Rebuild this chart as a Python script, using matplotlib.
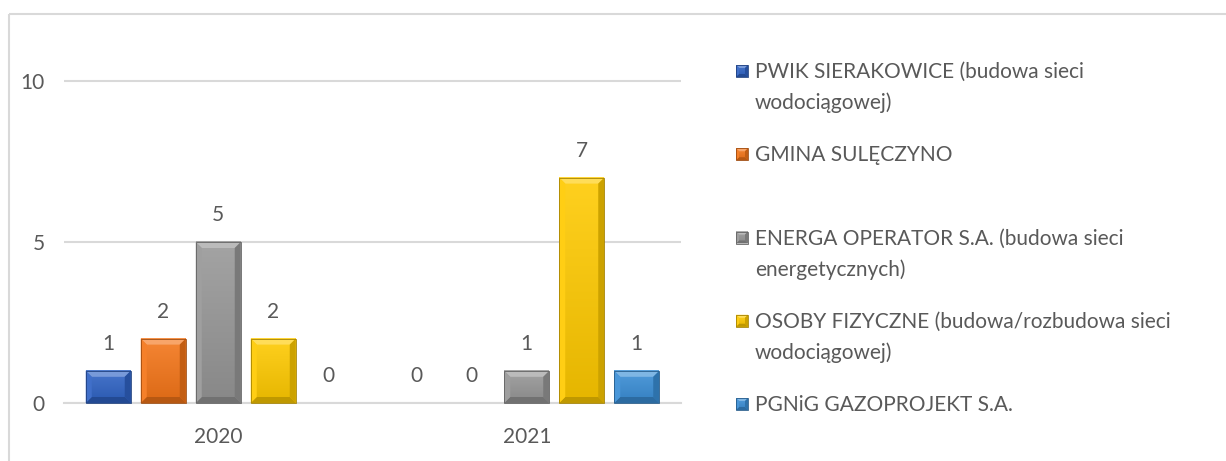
import matplotlib
matplotlib.use("Agg")

import matplotlib.pyplot as plt
import numpy as np
from matplotlib.colors import to_rgb
from matplotlib.patches import Polygon, Rectangle

years = ["2020", "2021"]
series = [
    "PWIK SIERAKOWICE (budowa sieci\nwodociągowej)",
    "GMINA SULĘCZYNO",
    "ENERGA OPERATOR S.A. (budowa sieci\nenergetycznych)",
    "OSOBY FIZYCZNE (budowa/rozbudowa sieci\nwodociągowej)",
    "PGNiG GAZOPROJEKT S.A.",
]
pwik = [1, 0]
gmina = [2, 0]
energa = [5, 1]
osoby = [2, 7]
pgnig = [0, 1]
values = [pwik, gmina, energa, osoby, pgnig]
colors = ["#2F63C4", "#F47518", "#979797", "#FFCA00", "#3A8ED6"]

W, H = 1226, 461
TEXT = "#595959"
GRID = "#D9D9D9"
FS = 15
plt.rcParams["font.family"] = ["Lato", "DejaVu Sans"]

fig = plt.figure(figsize=(W / 100, H / 100), dpi=100)
ax = fig.add_axes([64 / W, (H - 403) / H, 617 / W, 354.2 / H])

# overlay in pixel coordinates (y down) for bevel effects and legend
ov = fig.add_axes([0, 0, 1, 1], zorder=5)
ov.set_xlim(0, W)
ov.set_ylim(H, 0)
ov.axis("off")


def shade(c, f):
    r = np.array(to_rgb(c))
    if f >= 0:
        return tuple(r + (1 - r) * f)
    return tuple(r * (1 + f))


def bevel(x0, y0, x1, y1, c, b=6):
    # x0,y0 top-left, x1,y1 bottom-right in overlay pixels
    h = y1 - y0
    bv = min(b, h / 2.5)
    bh = min(b, (x1 - x0) / 3)
    grad = np.linspace(0, 1, 64)[:, None]
    top, bot = np.array(shade(c, 0.12)), np.array(shade(c, -0.1))
    img = top[None, None, :] * (1 - grad[..., None]) + bot[None, None, :] * grad[..., None]
    ov.imshow(img, extent=(x0, x1, y1, y0), aspect="auto", zorder=1, interpolation="bilinear")
    ov.add_patch(Polygon([(x0, y0), (x1, y0), (x1 - bh, y0 + bv), (x0 + bh, y0 + bv)],
                         closed=True, color=shade(c, 0.35), lw=0, zorder=2))
    ov.add_patch(Polygon([(x0, y1), (x1, y1), (x1 - bh, y1 - bv), (x0 + bh, y1 - bv)],
                         closed=True, color=shade(c, -0.25), lw=0, zorder=2))
    ov.add_patch(Polygon([(x0, y0), (x0 + bh, y0 + bv), (x0 + bh, y1 - bv), (x0, y1)],
                         closed=True, color=shade(c, 0.08), lw=0, zorder=2))
    ov.add_patch(Polygon([(x1, y0), (x1 - bh, y0 + bv), (x1 - bh, y1 - bv), (x1, y1)],
                         closed=True, color=shade(c, -0.2), lw=0, zorder=2))
    ov.add_patch(Rectangle((x0, y0), x1 - x0, h, fill=False, ec=shade(c, -0.35), lw=0.6, zorder=3))


x = np.arange(len(years))
slot = 55 / 308.5
bw = 45 / 308.5
n = len(series)
bar_groups = []
for i, (vals, c) in enumerate(zip(values, colors)):
    bars = ax.bar(x + (i - (n - 1) / 2) * slot, vals, bw, color=c, zorder=2)
    ax.bar_label(bars, padding=12, fontsize=FS, color=TEXT)
    bar_groups.append((bars, c))

ax.set_xlim(-0.5, 1.5)
ax.set_ylim(0, 11)
ax.set_yticks([0, 5, 10])
ax.set_xticks(x, years)
ax.yaxis.grid(True, color=GRID, lw=1.5, zorder=0)
ax.set_axisbelow(True)
for s in ["top", "right", "left"]:
    ax.spines[s].set_visible(False)
ax.spines["bottom"].set_color(GRID)
ax.spines["bottom"].set_linewidth(1.5)
ax.tick_params(length=0, labelsize=FS, colors=TEXT)
ax.tick_params(axis="y", pad=14)
ax.tick_params(axis="x", pad=17)

for bars, c in bar_groups:
    for p in bars:
        if p.get_height() <= 0:
            continue
        ext = p.get_window_extent()
        bevel(ext.x0, H - ext.y1, ext.x1, H - ext.y0, c)

# chart area border
ov.add_patch(Rectangle((8.5, 14.5), W, H, fill=False, ec=GRID, lw=1.5, zorder=0))

# legend, evenly spaced entries as in the original
for k, (lab, c) in enumerate(zip(series, colors)):
    yc = 71 + k * 83.25
    bevel(736, yc - 6, 748, yc + 6, c, b=3)
    for j, line in enumerate(lab.split("\n")):
        ov.text(755, yc + 7 + j * 31, line, fontsize=FS, color=TEXT, va="baseline", ha="left")

fig.savefig("out.png", dpi=100)
plt.close(fig)
